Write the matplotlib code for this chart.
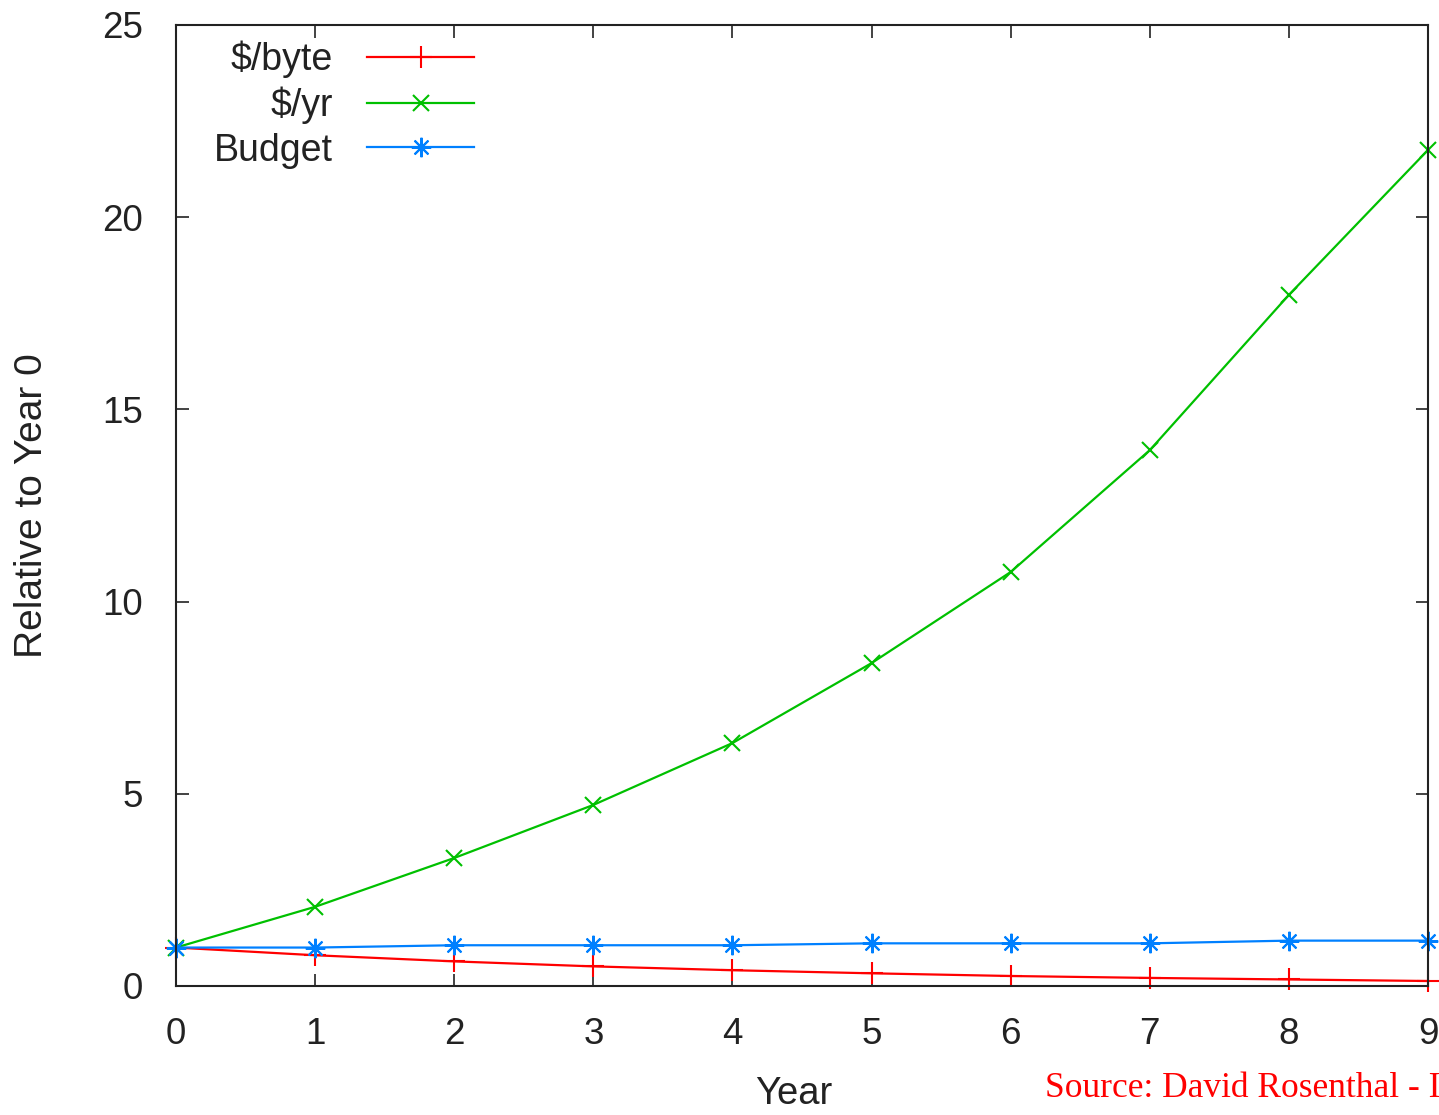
import matplotlib.pyplot as plt

# Values
years = [0, 1, 2, 3, 4, 5, 6, 7, 8, 9]
cost_per_byte = [1.0, 0.8, 0.64, 0.51, 0.41, 0.33, 0.26, 0.21, 0.17, 0.13]
cost_per_year = [1.0, 2.06, 3.33, 4.71, 6.32, 8.40, 10.77, 13.94, 17.98, 21.75]
budget = [1.0, 1.0, 1.06, 1.06, 1.06, 1.11, 1.11, 1.11, 1.18, 1.18]

plt.rcParams["font.family"] = ["Liberation Sans", "DejaVu Sans"]

fig = plt.figure(figsize=(14.39, 11.15), dpi=100)
ax = fig.add_axes([0.1223, 0.1157, 0.8701, 0.8619])

ax.plot(years, cost_per_byte, color="#ff0000", marker="+", markersize=16,
        markeredgewidth=1.5, linewidth=1.6, label="$/byte", clip_on=False)
ax.plot(years, cost_per_year, color="#00c000", marker="x", markersize=12,
        markeredgewidth=1.5, linewidth=1.6, label="$/yr", clip_on=False)
ax.plot(years, budget, color="#0080ff", marker=(8, 2, 0), markersize=14,
        markeredgewidth=1.5, linewidth=1.6, label="Budget", clip_on=False)

ax.set_xlim(0, 9)
ax.set_ylim(0, 25)
ax.set_xticks(years)
ax.set_yticks([0, 5, 10, 15, 20, 25])
ax.tick_params(direction="in", length=9, width=1.2, top=True, right=True,
               labelsize=26.5, colors="#222222")
ax.tick_params(axis="x", pad=22)
ax.tick_params(axis="y", pad=24)
for s in ax.spines.values():
    s.set_linewidth(1.5)
    s.set_color("#222222")

ax.set_xlabel("Year", fontsize=27.5, color="#222222")
ax.xaxis.set_label_coords(0.493, -0.094, transform=ax.transAxes)
ax.xaxis.label.set_va("top")
ax.set_ylabel("Relative to Year 0", fontsize=28, color="#222222", labelpad=37)

leg = ax.legend(loc="upper left", markerfirst=False, frameon=False, fontsize=27,
                handlelength=2.85, handletextpad=0.93, labelspacing=0.23,
                borderaxespad=0.0, borderpad=0.0, bbox_to_anchor=(0.03, 0.984))
for t in leg.get_texts():
    t.set_ha("right")
    t.set_color("#222222")
leg._legend_box.align = "right"

fig.text(0.726, 0.016, "Source: David Rosenthal - I", color="#ff0000",
         fontsize=25.5, family="Liberation Serif")

fig.savefig("out.png", dpi=100)
